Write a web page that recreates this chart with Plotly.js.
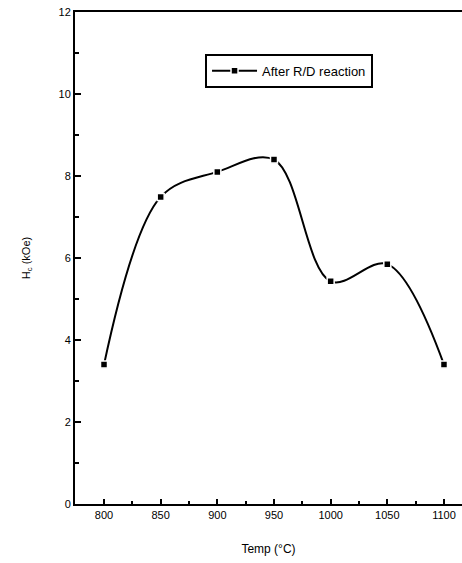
<!DOCTYPE html>
<html>
<head>
<meta charset="utf-8">
<script src="https://cdn.plot.ly/plotly-3.0.1.min.js"></script>
<style>html,body{margin:0;padding:0;background:#fff;}#chart{width:462px;height:563px;}</style>
</head>
<body>
<div id="chart"></div>
<script>
const temps = [800, 850, 900, 950, 1000, 1050, 1100];
const hc = [3.4, 7.49, 8.1, 8.4, 5.43, 5.85, 3.4];
const seriesName = "After R/D reaction";
const xTickVals = [800, 850, 900, 950, 1000, 1050, 1100];
const yTickVals = [0, 2, 4, 6, 8, 10, 12];

const trace = {
  x: temps, y: hc, name: seriesName,
  type: 'scatter', mode: 'lines+markers',
  line: {shape: 'spline', smoothing: 1.0, color: '#000', width: 2},
  marker: {symbol: 'square', size: 7, color: '#000', line: {color: '#fff', width: 1.5}},
  cliponaxis: false
};

const layout = {
  width: 462, height: 563,
  margin: {l: 75, r: 0, t: 12, b: 59},
  paper_bgcolor: '#fff', plot_bgcolor: '#fff',
  font: {family: 'Liberation Sans, Arial, sans-serif', color: '#000', size: 11},
  showlegend: true,
  legend: {x: 0.336, y: 0.915, xanchor: 'left', yanchor: 'top',
    bordercolor: '#000', borderwidth: 2, bgcolor: '#fff',
    font: {size: 13, color: '#000'}, itemwidth: 45},
  xaxis: {
    range: [774.4, 1115.9], showgrid: false, zeroline: false,
    showline: true, linecolor: '#000', linewidth: 2, mirror: true,
    tickmode: 'array', tickvals: xTickVals, ticktext: xTickVals.map(String),
    ticks: 'inside', ticklen: 5, tickwidth: 2, tickcolor: '#000',
    minor: {dtick: 25, ticks: 'inside', ticklen: 3, tickwidth: 2, tickcolor: '#000', tick0: 800},
    tickfont: {size: 11},
    title: {text: 'Temp (°C)', font: {size: 12}, standoff: 24}
  },
  yaxis: {
    range: [0, 12], showgrid: false, zeroline: false,
    showline: true, linecolor: '#000', linewidth: 2,
    tickmode: 'array', tickvals: yTickVals, ticktext: yTickVals.map(String),
    ticks: 'inside', ticklen: 6, tickwidth: 2, tickcolor: '#000',
    minor: {dtick: 1, ticks: 'inside', ticklen: 4, tickwidth: 2, tickcolor: '#000'},
    tickfont: {size: 11},
    title: {text: 'H<sub>c</sub> (kOe)', font: {size: 11}, standoff: 26}
  }
};

Plotly.newPlot('chart', [trace], layout, {staticPlot: true, displayModeBar: false});
</script>
</body>
</html>
